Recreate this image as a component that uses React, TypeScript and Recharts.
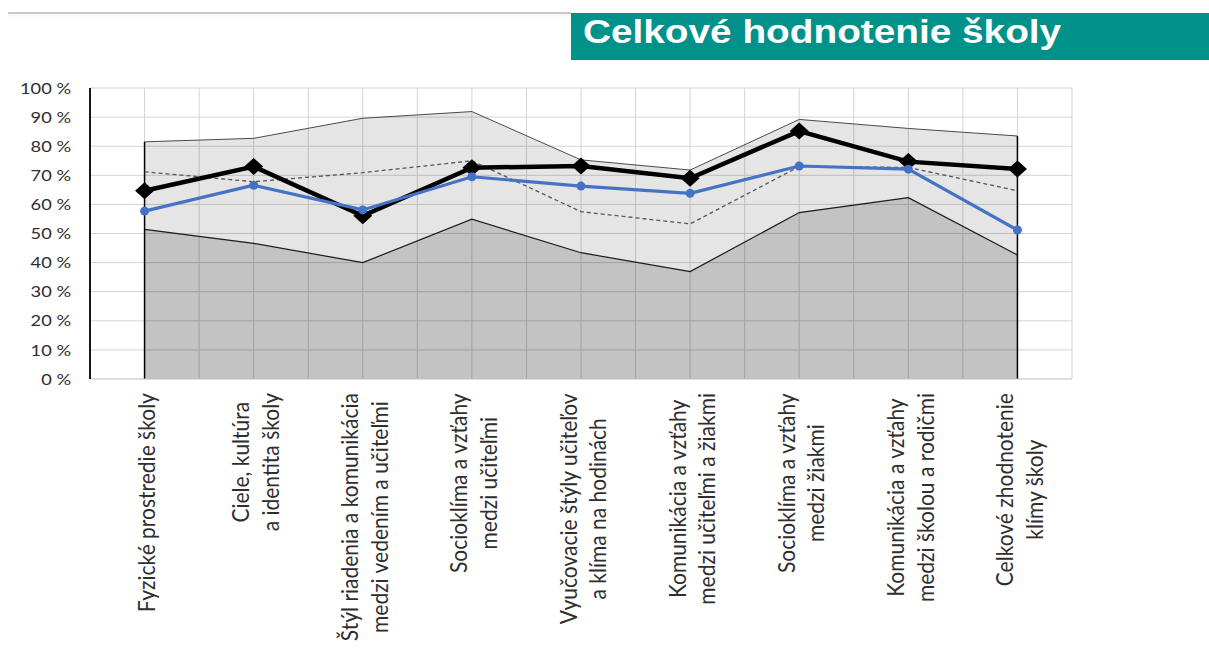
import React from 'react';
import {
  ComposedChart,
  Area,
  Line,
  XAxis,
  YAxis,
  CartesianGrid,
  ReferenceLine,
} from 'recharts';

const categories = [
  'Fyzické prostredie školy',
  'Ciele, kultúra\na identita školy',
  'Štýl riadenia a komunikácia\nmedzi vedením a učiteľmi',
  'Socioklíma a vzťahy\nmedzi učiteľmi',
  'Vyučovacie štýly učiteľov\na klíma na hodinách',
  'Komunikácia a vzťahy\nmedzi učiteľmi a žiakmi',
  'Socioklíma a vzťahy\nmedzi žiakmi',
  'Komunikácia a vzťahy\nmedzi školou a rodičmi',
  'Celkové zhodnotenie\nklímy školy',
];

// values in %
const maxValues = [81.5, 82.7, 89.6, 91.9, 75.3, 71.8, 89.2, 86.1, 83.5];
const minValues = [51.4, 46.6, 40.0, 54.9, 43.4, 36.9, 57.2, 62.3, 42.6];
const medianValues = [71.2, 67.8, 70.9, 75.0, 57.5, 53.3, 73.0, 72.7, 64.7];
const blueValues = [57.7, 66.6, 58.1, 69.5, 66.3, 63.8, 73.2, 72.1, 51.2];
const schoolValues = [64.7, 73.0, 56.1, 72.6, 73.2, 69.0, 85.2, 74.7, 72.2];

const yTicks = [0, 10, 20, 30, 40, 50, 60, 70, 80, 90, 100];

const title = 'Celkové hodnotenie školy';

const data = categories.map((name, i) => ({
  name,
  max: maxValues[i],
  min: minValues[i],
  median: medianValues[i],
  blue: blueValues[i],
  school: schoolValues[i],
}));

// the source picture is stretched a bit horizontally
const SX = 1.14;
const LABEL_SIZE = 21;
const LINE_H = 26;
const PLOT_W = 982;
const HALF_BAND = PLOT_W / categories.length / 2;
const TEXT = '#2e2e2e';

let ctx: CanvasRenderingContext2D | null = null;
function textWidth(s: string, font: string) {
  if (!ctx) ctx = document.createElement('canvas').getContext('2d');
  if (!ctx) return s.length * 10;
  ctx.font = font;
  return ctx.measureText(s).width;
}

// eslint-disable-next-line @typescript-eslint/no-explicit-any
const CategoryTick = ({ x, y, payload }: any) => {
  const lines = String(payload.value).split('\n');
  const w = Math.max(...lines.map((l) => textWidth(l, `${LABEL_SIZE}px Lato`)));
  return (
    <g transform={`translate(${x + 2},${y + 14}) scale(${SX},1) rotate(-90)`}>
      {lines.map((l, i) => (
        <text
          key={i}
          x={-w / 2}
          y={(i - (lines.length - 1) / 2) * LINE_H}
          dy="0.35em"
          textAnchor="middle"
          fontFamily="Lato"
          fontSize={LABEL_SIZE}
          fill={TEXT}
        >
          {l}
        </text>
      ))}
    </g>
  );
};

// eslint-disable-next-line @typescript-eslint/no-explicit-any
const PercentTick = ({ x, y, payload }: any) => (
  <text
    transform={`translate(${x},${y}) scale(${SX},1)`}
    dy="0.35em"
    textAnchor="end"
    fontFamily="Lato"
    fontSize={16}
    fill={TEXT}
  >
    {`${payload.value} %`}
  </text>
);

// eslint-disable-next-line @typescript-eslint/no-explicit-any
const Diamond = ({ cx, cy }: any) => {
  if (cx == null || cy == null) return null;
  return (
    <path
      d={`M${cx},${cy - 8.5} L${cx + 9.5},${cy} L${cx},${cy + 8.5} L${cx - 9.5},${cy} Z`}
      fill="#000"
    />
  );
};

export default function App() {
  const first = categories[0];
  const last = categories[categories.length - 1];
  return (
    <div
      style={{
        position: 'absolute',
        left: 0,
        top: 0,
        width: 1209,
        height: 648,
        background: '#fff',
        overflow: 'hidden',
      }}
    >
      <div
        style={{
          position: 'absolute',
          left: 8,
          top: 12,
          width: 563,
          height: 2,
          background: '#c8c8c8',
          boxShadow: '0 2px 4px rgba(0,0,0,0.08)',
        }}
      />
      <div
        style={{
          position: 'absolute',
          left: 571,
          top: 13,
          width: 638,
          height: 47,
          background: '#00918b',
        }}
      >
        <div
          style={{
            position: 'absolute',
            left: 12,
            top: 1,
            fontFamily: '"Liberation Sans", Arial, sans-serif',
            fontWeight: 700,
            fontSize: 34,
            lineHeight: '34px',
            color: '#fff',
            whiteSpace: 'nowrap',
            transform: `scaleX(${SX})`,
            transformOrigin: 'left top',
          }}
        >
          {title}
        </div>
      </div>
      <div style={{ position: 'absolute', left: 0, top: 0 }}>
        <ComposedChart
          width={1209}
          height={648}
          data={data}
          margin={{ top: 88, right: 137, bottom: 0, left: 0 }}
        >
          <CartesianGrid
            stroke="#d4d4d4"
            strokeWidth={1}
            verticalCoordinatesGenerator={({ offset }: any) =>
              Array.from(
                { length: categories.length * 2 + 1 },
                (_, i) => offset.left + (i * offset.width) / (categories.length * 2)
              )
            }
          />
          <XAxis
            dataKey="name"
            interval={0}
            height={269}
            padding={{ left: HALF_BAND, right: HALF_BAND }}
            tickLine={false}
            tickSize={0}
            tickMargin={0}
            axisLine={{ stroke: '#d4d4d4' }}
            tick={<CategoryTick />}
          />
          <YAxis
            width={90}
            domain={[0, 100]}
            ticks={yTicks}
            interval={0}
            tickLine={false}
            tickSize={0}
            tickMargin={19}
            axisLine={{ stroke: '#000', strokeWidth: 1.8 }}
            tick={<PercentTick />}
          />
          <Area
            type="linear"
            dataKey="max"
            stroke="#4a4a4a"
            strokeWidth={1}
            fill="#000"
            fillOpacity={0.1}
            isAnimationActive={false}
          />
          <Area
            type="linear"
            dataKey="min"
            stroke="#1a1a1a"
            strokeWidth={1.2}
            fill="#000"
            fillOpacity={0.15}
            isAnimationActive={false}
          />
          <ReferenceLine
            segment={[
              { x: first, y: 0 },
              { x: first, y: maxValues[0] },
            ]}
            stroke="#000"
            strokeWidth={1.5}
            ifOverflow="visible"
          />
          <ReferenceLine
            segment={[
              { x: last, y: 0 },
              { x: last, y: maxValues[maxValues.length - 1] },
            ]}
            stroke="#000"
            strokeWidth={1.5}
            ifOverflow="visible"
          />
          <Line
            type="linear"
            dataKey="median"
            stroke="#555"
            strokeWidth={1.3}
            strokeDasharray="4 3"
            dot={false}
            isAnimationActive={false}
          />
          <Line
            type="linear"
            dataKey="school"
            stroke="#000"
            strokeWidth={4.5}
            dot={<Diamond />}
            isAnimationActive={false}
          />
          <Line
            type="linear"
            dataKey="blue"
            stroke="#4472c4"
            strokeWidth={3.2}
            dot={{ r: 4.5, fill: '#4472c4', stroke: 'none' }}
            isAnimationActive={false}
          />
        </ComposedChart>
      </div>
    </div>
  );
}
